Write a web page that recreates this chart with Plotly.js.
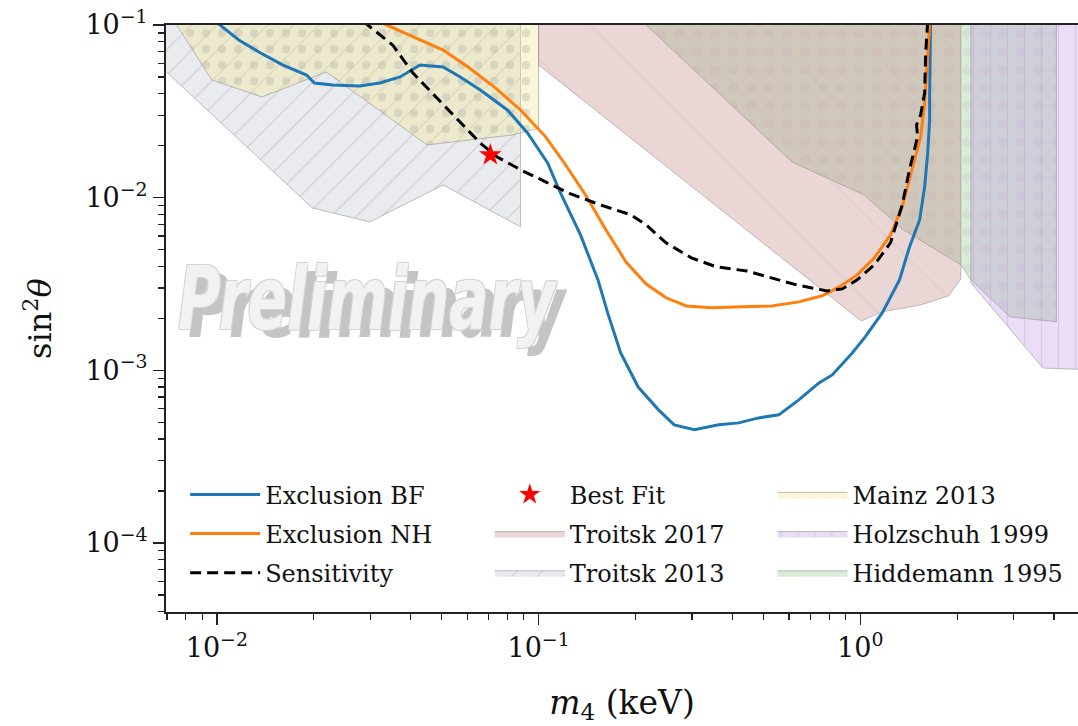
<!DOCTYPE html>
<html>
<head>
<meta charset="utf-8">
<script src="https://cdn.plot.ly/plotly-3.0.1.min.js"></script>
<style>html,body{margin:0;padding:0;background:#fff;}#chart{width:1078px;height:726px;}</style>
</head>
<body>
<div id="chart"></div>
<script>
// ---- Exclusion curves (m4 in keV, sin^2 theta) ----
const bfX = [0.0099, 0.0117, 0.0135, 0.0160, 0.0190, 0.0201, 0.0229, 0.0278, 0.0321, 0.0371, 0.0428, 0.0505, 0.0571, 0.0659, 0.080, 0.0924, 0.1067, 0.117, 0.135, 0.153, 0.164, 0.180, 0.204, 0.236, 0.264, 0.305, 0.363, 0.419, 0.483, 0.558, 0.644, 0.744, 0.818, 0.944, 1.036, 1.17, 1.324, 1.422, 1.529, 1.585, 1.62, 1.643, 1.643, 1.654];
const bfY = [0.105, 0.0819, 0.0698, 0.0587, 0.0513, 0.0461, 0.0449, 0.0444, 0.0461, 0.050, 0.0587, 0.0571, 0.050, 0.042, 0.0322, 0.0237, 0.0159, 0.01064, 0.00608, 0.00334, 0.00215, 0.00126, 0.00080, 0.00059, 0.000483, 0.000452, 0.000483, 0.000496, 0.00053, 0.000552, 0.000674, 0.000845, 0.00094, 0.00126, 0.00156, 0.00215, 0.00334, 0.00518, 0.00743, 0.01153, 0.01815, 0.0282, 0.0404, 0.105];

const nhX = [0.0318, 0.0407, 0.0505, 0.0604, 0.0734, 0.0879, 0.1052, 0.1214, 0.140, 0.162, 0.187, 0.216, 0.249, 0.288, 0.345, 0.428, 0.531, 0.644, 0.761, 0.86, 0.978, 1.106, 1.241, 1.35, 1.45, 1.54, 1.585, 1.62, 1.645];
const nhY = [0.105, 0.0852, 0.0716, 0.0571, 0.0432, 0.0322, 0.0225, 0.01546, 0.01036, 0.0065, 0.00424, 0.00316, 0.00263, 0.00236, 0.0023, 0.00233, 0.00236, 0.00249, 0.0027, 0.00304, 0.00357, 0.00448, 0.00608, 0.00884, 0.0145, 0.0225, 0.0353, 0.0688, 0.105];

const sensX = [0.0285, 0.0352, 0.0407, 0.0484, 0.0571, 0.0659, 0.0744, 0.0879, 0.1052, 0.1259, 0.156, 0.194, 0.216, 0.249, 0.2985, 0.357, 0.444, 0.531, 0.635, 0.789, 0.879, 0.978, 1.106, 1.241, 1.35, 1.422, 1.507, 1.496, 1.54, 1.585, 1.597, 1.62];
const sensY = [0.105, 0.0766, 0.0527, 0.0378, 0.0274, 0.0207, 0.0172, 0.0145, 0.01233, 0.0105, 0.00907, 0.00794, 0.00695, 0.00547, 0.00448, 0.00397, 0.00376, 0.00343, 0.00312, 0.00288, 0.00296, 0.00334, 0.00408, 0.00547, 0.00907, 0.0145, 0.0225, 0.0264, 0.0301, 0.0404, 0.0688, 0.105];

const bestFitX = [0.0708];
const bestFitY = [0.0177];

// ---- Excluded regions from earlier experiments ----
const troitsk2013X = [0.0065, 0.00698, 0.0198, 0.0299, 0.0505, 0.0879, 0.0879, 0.0065];
const troitsk2013Y = [0.0587, 0.0534, 0.00872, 0.00723, 0.01185, 0.00677, 0.12, 0.12];

const mainzX = [0.0075, 0.00965, 0.01382, 0.0219, 0.045, 0.0835, 0.1, 0.1, 0.0075];
const mainzY = [0.1, 0.048, 0.0383, 0.0534, 0.0202, 0.0231, 0.0253, 0.12, 0.12];

const hiddemannX = [0.216, 0.613, 1.029, 1.363, 2.053, 2.207, 2.922, 4.07, 4.07, 0.216];
const hiddemannY = [0.1, 0.0161, 0.01036, 0.0065, 0.00408, 0.00334, 0.00204, 0.00191, 0.12, 0.12];

const holzschuhX = [2.207, 2.207, 3.70, 6.0, 6.0];
const holzschuhY = [0.12, 0.00321, 0.00103, 0.001, 0.12];

const troitsk2017X = [0.1, 0.1, 1.007, 1.17, 1.54, 1.884, 2.053, 2.053];
const troitsk2017Y = [0.12, 0.0587, 0.00193, 0.00218, 0.00239, 0.0027, 0.00338, 0.12];

// ---- Tick labels ----
const xTickVals = [0.01, 0.1, 1];
const xTickText = ['10<sup>\u22122</sup>', '10<sup>\u22121</sup>', '10<sup>0</sup>'];
const yTickVals = [1e-4, 1e-3, 1e-2, 1e-1];
const yTickText = ['10<sup>\u22124</sup>', '10<sup>\u22123</sup>', '10<sup>\u22122</sup>', '10<sup>\u22121</sup>'];

function minorTicks(lo, hi) {
  const v = [];
  for (let e = lo; e <= hi; e++) for (let m = 2; m <= 9; m++) v.push(m * Math.pow(10, e));
  return v;
}

const SERIF = 'DejaVu Serif, Liberation Serif, serif';
const WMFONT = 'DejaVu Sans Condensed, DejaVu Sans, Liberation Sans, sans-serif';
const edge = 'rgba(140,140,140,0.55)';

function region(name, x, y, fill, pat, legend, rank) {
  return {
    type: 'scatter', mode: 'lines', x: x, y: y, name: name,
    fill: 'toself', fillcolor: fill,
    fillpattern: Object.assign({fillmode: 'overlay', bgcolor: fill}, pat),
    line: {color: edge, width: 1},
    hoverinfo: 'skip', legend: legend, legendrank: rank, legendgroup: name
  };
}

const traces = [
  region('Troitsk 2013', troitsk2013X, troitsk2013Y, 'rgba(170,176,192,0.25)',
         {shape: '/', fgcolor: 'rgb(155,155,160)', fgopacity: 0.4, size: 18, solidity: 0.06}, 'legend2', 3),
  region('Mainz 2013', mainzX, mainzY, 'rgba(240,228,140,0.35)',
         {shape: '.', fgcolor: 'rgb(175,175,165)', fgopacity: 0.35, size: 16, solidity: 0.22}, 'legend3', 1),
  region('Hiddemann 1995', hiddemannX, hiddemannY, 'rgba(100,180,100,0.25)',
         {shape: '.', fgcolor: 'rgb(200,160,200)', fgopacity: 0.15, size: 18, solidity: 0.25}, 'legend3', 3),
  region('Holzschuh 1999', holzschuhX, holzschuhY, 'rgba(180,120,220,0.25)',
         {shape: '|', fgcolor: 'rgb(170,150,190)', fgopacity: 0.3, size: 17, solidity: 0.08}, 'legend3', 2),
  region('Troitsk 2017', troitsk2017X, troitsk2017Y, 'rgba(190,120,120,0.30)',
         {shape: '\\', fgcolor: 'rgb(190,185,185)', fgopacity: 0.35, size: 60, solidity: 0.02}, 'legend2', 2),
  {type: 'scatter', mode: 'lines', x: bfX, y: bfY, name: 'Exclusion BF',
   line: {color: '#1f77b4', width: 3}, legend: 'legend', legendrank: 1, legendgroup: 'bf'},
  {type: 'scatter', mode: 'lines', x: nhX, y: nhY, name: 'Exclusion NH',
   line: {color: '#ff7f0e', width: 3}, legend: 'legend', legendrank: 2, legendgroup: 'nh'},
  {type: 'scatter', mode: 'lines', x: sensX, y: sensY, name: 'Sensitivity',
   line: {color: '#000000', width: 3, dash: '11px,6px'}, legend: 'legend', legendrank: 3, legendgroup: 'sens'},
  {type: 'scatter', mode: 'markers', x: bestFitX, y: bestFitY, name: 'Best Fit',
   marker: {symbol: 'star', color: '#ff0000', size: 17, line: {width: 0}},
   legend: 'legend2', legendrank: 1, legendgroup: 'bestfit'}
];

const legendBase = {
  bgcolor: 'rgba(255,255,255,0)', borderwidth: 0, orientation: 'v',
  xanchor: 'left', yanchor: 'top', y: 0.238, xref: 'paper', yref: 'paper',
  font: {family: SERIF, size: 24, color: '#111'}, itemwidth: 70,
  traceorder: 'grouped', tracegroupgap: 5
};

const axisFont = {family: SERIF, size: 27, color: '#111'};

const layout = {
  width: 1078, height: 726,
  margin: {l: 166, r: 0, t: 25, b: 114},
  paper_bgcolor: '#ffffff', plot_bgcolor: '#ffffff',
  showlegend: true,
  xaxis: {
    type: 'log', range: [Math.log10(0.00695), Math.log10(4.75)],
    tickmode: 'array', tickvals: xTickVals, ticktext: xTickText,
    ticks: 'outside', ticklen: 11, tickwidth: 1.5, tickcolor: '#222',
    showline: true, linecolor: '#222', linewidth: 2, mirror: true,
    showgrid: false, zeroline: false,
    minor: {tickmode: 'array', tickvals: minorTicks(-3, 0), ticks: 'outside', ticklen: 6, tickwidth: 1.2, tickcolor: '#222', showgrid: false},
    tickfont: axisFont,
    title: {text: '<i>m</i><sub>4</sub> (keV)', font: {family: SERIF, size: 33, color: '#111'}, standoff: 28}
  },
  yaxis: {
    type: 'log', range: [-4.4, -1],
    tickmode: 'array', tickvals: yTickVals, ticktext: yTickText,
    ticks: 'outside', ticklen: 11, tickwidth: 1.5, tickcolor: '#222',
    showline: true, linecolor: '#222', linewidth: 2, mirror: false,
    showgrid: false, zeroline: false,
    minor: {tickmode: 'array', tickvals: minorTicks(-5, -2), ticks: 'outside', ticklen: 6, tickwidth: 1.2, tickcolor: '#222', showgrid: false},
    tickfont: axisFont,
    title: {text: 'sin<sup>2</sup><i>θ</i>', font: {family: SERIF, size: 32, color: '#111'}, standoff: 24}
  },
  legend: Object.assign({}, legendBase, {x: 0.021}),
  legend2: Object.assign({}, legendBase, {x: 0.355}),
  legend3: Object.assign({}, legendBase, {x: 0.665}),
  annotations: [
    {xref: 'paper', yref: 'paper', x: 0.232, y: 0.52, xanchor: 'center', yanchor: 'middle',
     text: 'Preliminary', showarrow: false,
     font: {family: WMFONT, size: 88, weight: 'bold', style: 'italic', color: 'rgb(196,196,196)'}},
    {xref: 'paper', yref: 'paper', x: 0.222, y: 0.534, xanchor: 'center', yanchor: 'middle',
     text: 'Preliminary', showarrow: false,
     font: {family: WMFONT, size: 88, weight: 'bold', style: 'italic', color: 'rgb(242,242,242)',
            shadow: '1px 1px 0 rgb(212,212,212), -1px -1px 0 rgb(212,212,212), 1px -1px 0 rgb(212,212,212), -1px 1px 0 rgb(212,212,212)'}}
  ]
};

Plotly.newPlot('chart', traces, layout, {displayModeBar: false, staticPlot: true}).then(function () {
  // narrow the watermark horizontally (condensed look of the original stamp)
  document.querySelectorAll('#chart .annotation text.annotation-text').forEach(function (t) {
    const b = t.getBBox();
    const cx = b.x + b.width / 2;
    const sx = 380 / b.width;
    t.setAttribute('transform', 'translate(' + cx + ',0) scale(' + sx + ',1) translate(' + (-cx) + ',0)');
  });
});
</script>
</body>
</html>
